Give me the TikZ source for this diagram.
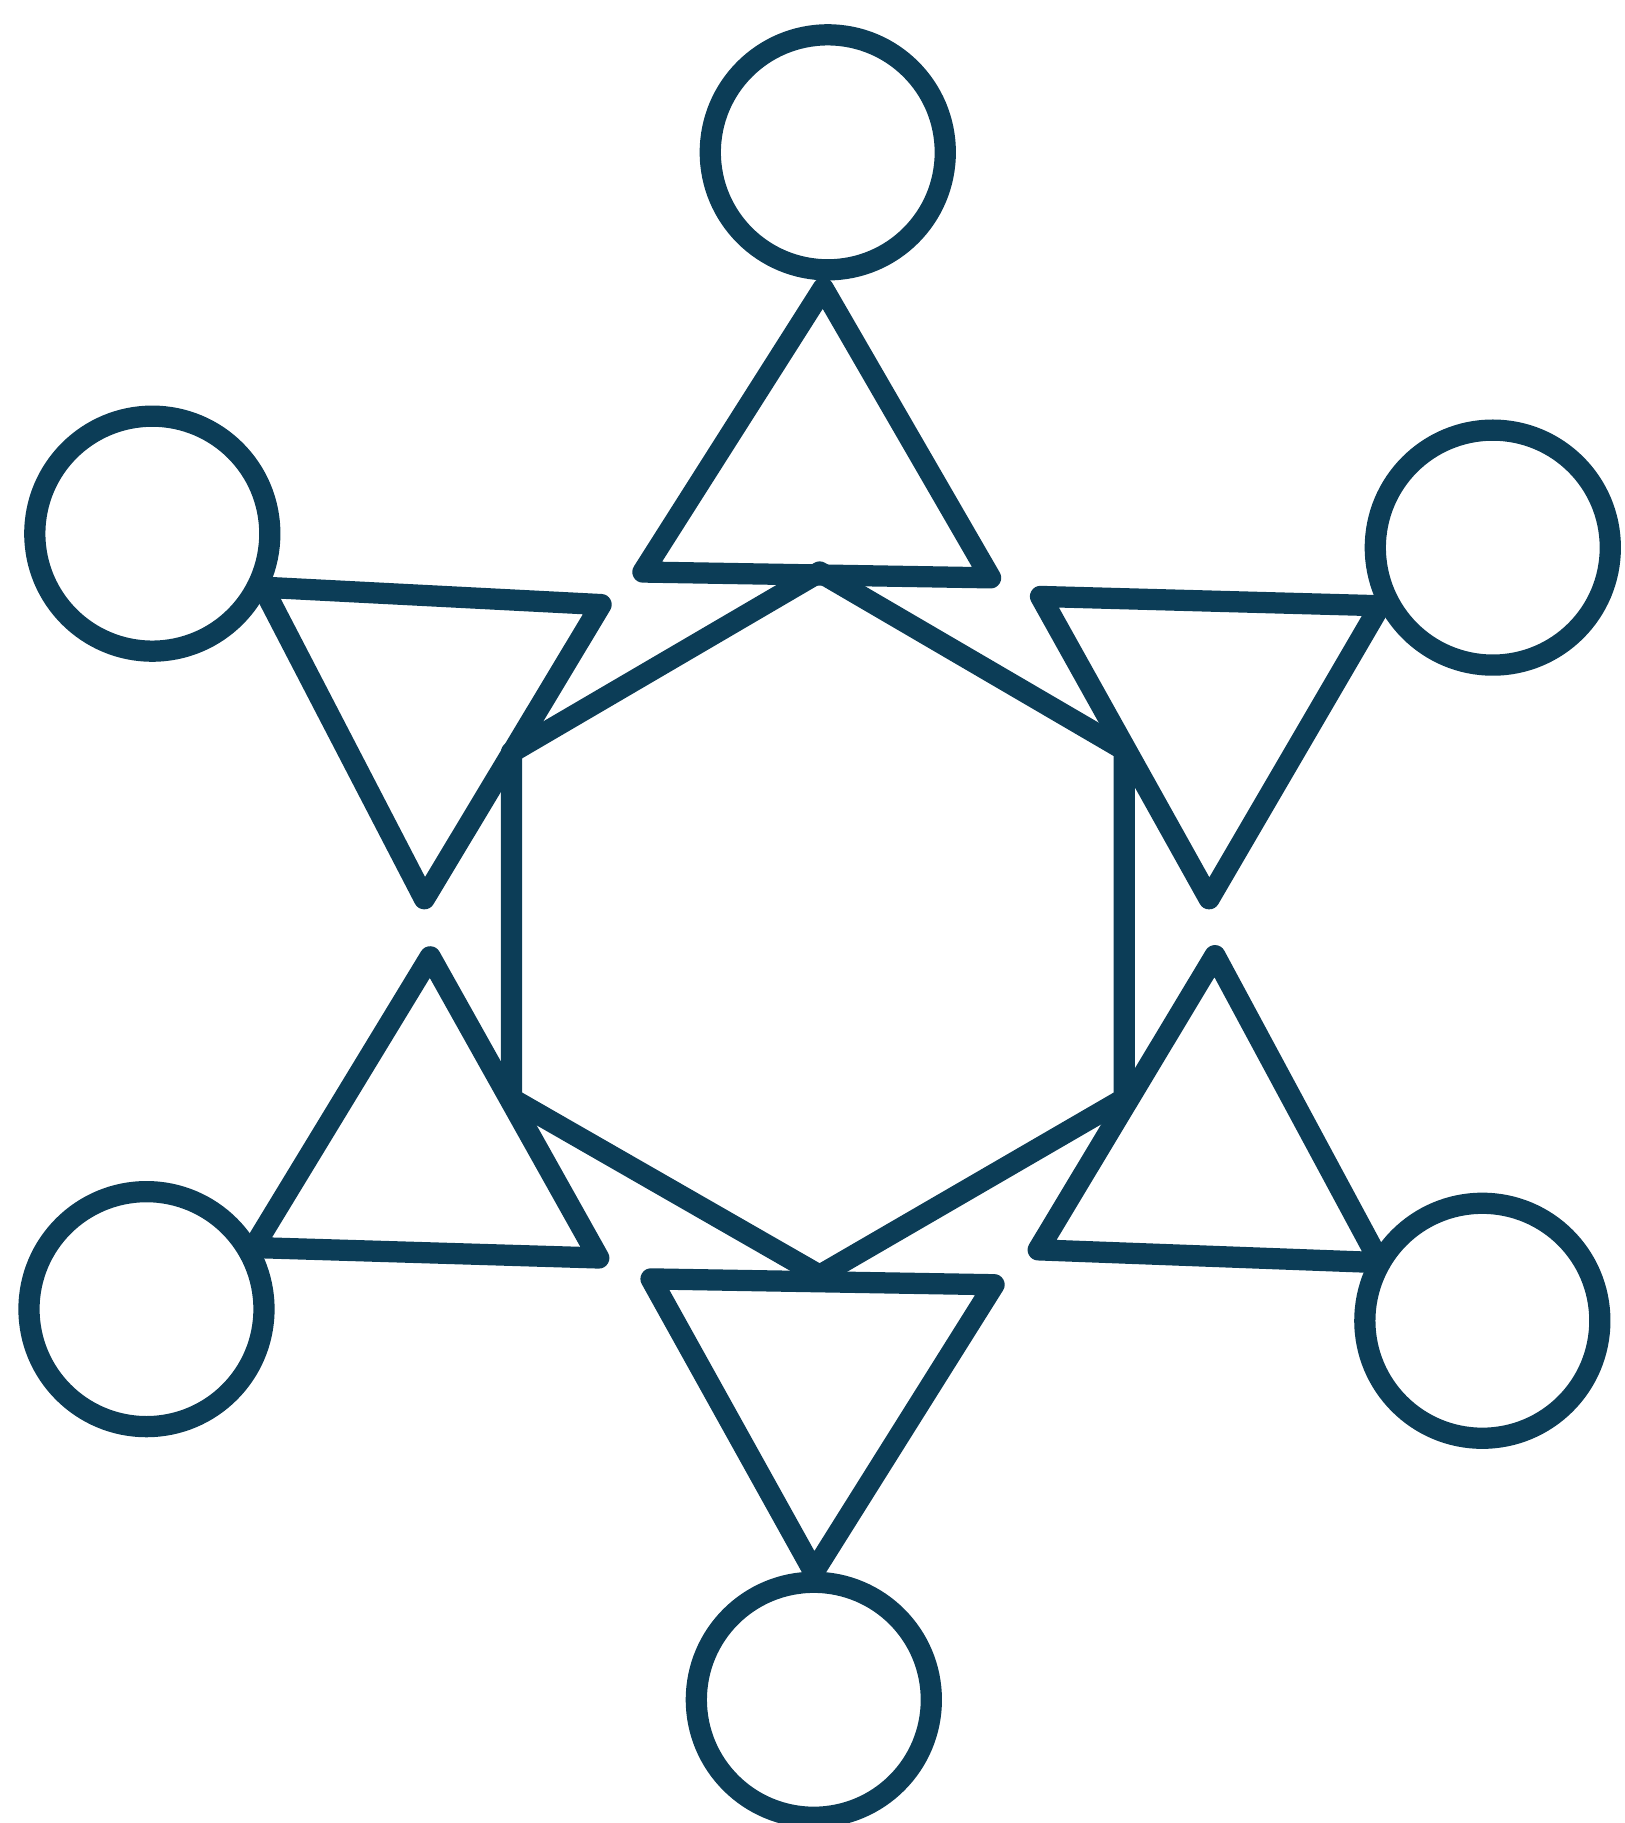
\documentclass[tikz,border=0pt]{standalone}
\usepackage{tikz}
\usetikzlibrary{positioning, calc}
\definecolor{starnavy}{RGB}{12, 61, 87}

\begin{document}
\begin{tikzpicture}[
			x=0.01cm, y=-0.01cm,
			outline/.style={draw=starnavy, line width=5.2pt, line join=round, line cap=round},
			ring/.style={circle, outline, minimum size=2.02cm, inner sep=0pt}
		]
		\useasboundingbox (0,0) rectangle (1397,1568);
		% hexagon in the middle
		\coordinate (ht) at (705,492);
		\coordinate (hur) at (967,645);
		\coordinate (hlr) at (967,945);
		\coordinate (hb) at (705,1097);
		\coordinate (hll) at (440,945);
		\coordinate (hul) at (440,647);
		\draw[outline] (ht) -- (hur) -- (hlr) -- (hb) -- (hll) -- (hul) -- cycle;
		
		% outer circles
		\node[ring] (ctop) at (712,131) {};
		\node[ring] (cul) at (131,459) {};
		\node[ring] (cur) at (1284,471) {};
		\node[ring] (cll) at (126,1126) {};
		\node[ring] (clr) at (1275,1136) {};
		\node[ring] (cbot) at (700,1462) {};
		
		% triangles
		\draw[outline] (708,248) -- (553,492) -- (852,497) -- cycle;
		\draw[outline] (226,505) -- (517,520) -- (365,773) -- cycle;
		\draw[outline] (895,513) -- (1187,521) -- (1040,773) -- cycle;
		\draw[outline] (370,823) -- (515,1082) -- (218,1073) -- cycle;
		\draw[outline] (1045,822) -- (1187,1086) -- (893,1075) -- cycle;
		\draw[outline] (560,1100) -- (855,1105) -- (700,1352) -- cycle;
		\end{tikzpicture}
\end{document}
